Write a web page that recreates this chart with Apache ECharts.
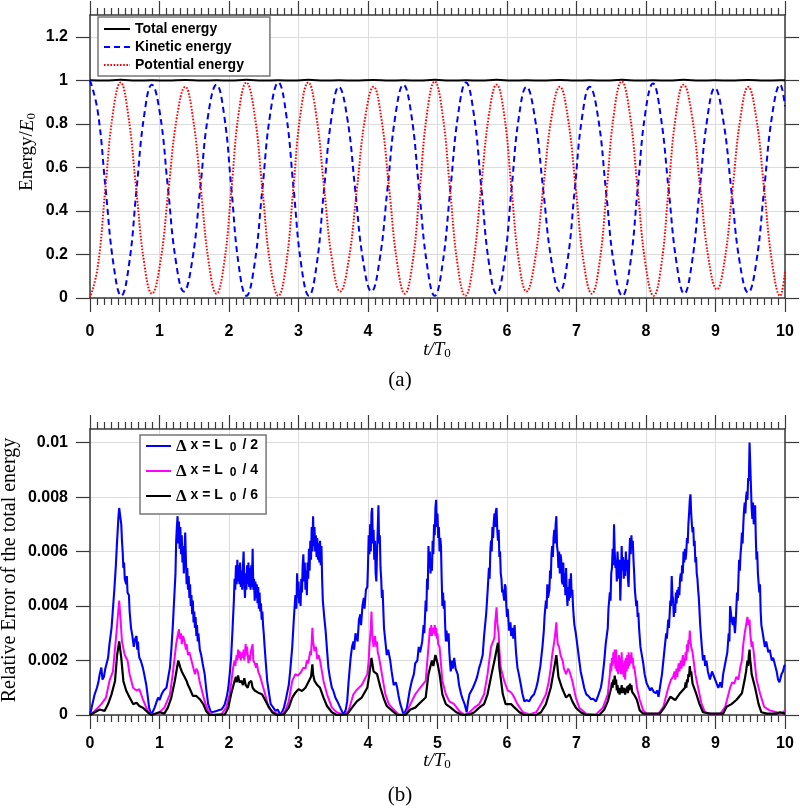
<!DOCTYPE html>
<html><head><meta charset="utf-8">
<script src="https://cdn.jsdelivr.net/npm/echarts@6/dist/echarts.min.js"></script>
<style>html,body{margin:0;padding:0;background:#fff}#c{width:800px;height:809px}</style>
</head><body><div id="c"></div>
<script>
// ---------- data ----------
const timeTicks = [0,1,2,3,4,5,6,7,8,9,10];
const energyTicks = [0,0.2,0.4,0.6,0.8,1,1.2];
const errTicks = [0,0.002,0.004,0.006,0.008,0.01];

const energyNames = ['Total energy','Kinetic energy','Potential energy'];
const errNames = ['Δx = L0/2','Δx = L0/4','Δx = L0/6'];
const errDenoms = ['2','4','6'];

const totalEnergy = [[0,1.0],[0.22,0.999],[0.44,1.002],[0.67,0.999],[0.89,1.0],[1.12,0.999],[1.37,1.001],[1.6,0.999],[1.82,1.0],[2.03,0.999],[2.25,1.002],[2.48,0.999],[2.71,1.0],[2.93,0.999],[3.14,1.002],[3.37,0.999],[3.58,1.0],[3.82,0.999],[4.08,1.001],[4.3,0.999],[4.51,1.0],[4.74,0.999],[4.96,1.002],[5.18,0.999],[5.41,1.0],[5.63,0.999],[5.85,1.002],[6.07,0.999],[6.28,1.0],[6.52,0.999],[6.76,1.001],[6.98,0.999],[7.19,1.0],[7.43,0.999],[7.65,1.002],[7.88,0.999],[8.1,1.0],[8.33,0.999],[8.54,1.002],[8.77,0.999],[8.99,1.0],[9.23,0.999],[9.47,1.001],[9.7,0.999],[9.93,1.0],[10,1.0]];

const kineticEnergy = [[0,1.0],[0.11,0.86],[0.225,0.5],[0.34,0.15],[0.45,0.01],
[0.56,0.15],[0.67,0.5],[0.78,0.84],[0.89,0.98],
[1.005,0.85],[1.12,0.51],[1.235,0.17],[1.35,0.03],
[1.47,0.17],[1.585,0.5],[1.70,0.84],[1.82,0.98],
[1.93,0.84],[2.035,0.5],[2.14,0.15],[2.25,0.01],
[2.365,0.15],[2.48,0.5],[2.595,0.85],[2.71,0.99],
[2.82,0.85],[2.93,0.5],[3.04,0.15],[3.15,0.01],
[3.26,0.15],[3.365,0.49],[3.475,0.83],[3.58,0.97],
[3.70,0.83],[3.815,0.5],[3.93,0.17],[4.05,0.03],
[4.165,0.17],[4.28,0.5],[4.395,0.84],[4.51,0.98],
[4.62,0.85],[4.735,0.5],[4.85,0.15],[4.96,0.01],
[5.07,0.15],[5.185,0.5],[5.30,0.85],[5.41,0.99],
[5.52,0.85],[5.63,0.51],[5.74,0.16],[5.85,0.02],
[5.96,0.16],[6.065,0.5],[6.17,0.83],[6.28,0.97],
[6.40,0.83],[6.52,0.5],[6.64,0.17],[6.76,0.03],
[6.87,0.17],[6.975,0.5],[7.08,0.83],[7.19,0.97],
[7.31,0.83],[7.425,0.49],[7.54,0.15],[7.66,0.01],
[7.77,0.15],[7.88,0.5],[7.99,0.85],[8.10,0.985],
[8.21,0.84],[8.325,0.5],[8.44,0.16],[8.55,0.02],
[8.66,0.16],[8.77,0.49],[8.88,0.82],[8.99,0.965],
[9.11,0.82],[9.23,0.49],[9.35,0.16],[9.47,0.025],
[9.585,0.16],[9.70,0.5],[9.815,0.84],[9.93,0.98],
[10,0.88]];

const potentialEnergy = [[0,0.0],[0.11,0.14],[0.22,0.5],[0.33,0.85],[0.44,0.99],
[0.55,0.84],[0.665,0.5],[0.78,0.16],[0.89,0.02],
[1.01,0.16],[1.13,0.5],[1.25,0.83],[1.37,0.97],
[1.48,0.83],[1.595,0.5],[1.71,0.16],[1.82,0.02],
[1.93,0.16],[2.035,0.5],[2.14,0.85],[2.25,0.99],
[2.365,0.85],[2.48,0.5],[2.595,0.15],[2.71,0.01],
[2.82,0.15],[2.925,0.5],[3.03,0.85],[3.14,0.99],
[3.255,0.84],[3.37,0.5],[3.485,0.17],[3.60,0.03],
[3.72,0.17],[3.84,0.5],[3.96,0.83],[4.08,0.97],
[4.19,0.83],[4.305,0.5],[4.42,0.16],[4.53,0.02],
[4.64,0.16],[4.745,0.5],[4.85,0.85],[4.96,0.995],
[5.07,0.85],[5.18,0.5],[5.29,0.15],[5.40,0.01],
[5.51,0.15],[5.625,0.5],[5.74,0.84],[5.85,0.98],
[5.96,0.84],[6.065,0.5],[6.17,0.17],[6.28,0.03],
[6.40,0.17],[6.52,0.5],[6.64,0.83],[6.76,0.97],
[6.875,0.83],[6.99,0.5],[7.105,0.16],[7.22,0.02],
[7.33,0.16],[7.435,0.5],[7.54,0.85],[7.65,0.995],
[7.765,0.85],[7.88,0.5],[7.995,0.15],[8.11,0.01],
[8.22,0.15],[8.325,0.5],[8.43,0.84],[8.54,0.98],
[8.66,0.84],[8.78,0.51],[8.90,0.18],[9.02,0.04],
[9.13,0.17],[9.245,0.5],[9.36,0.83],[9.47,0.97],
[9.585,0.83],[9.70,0.5],[9.815,0.16],[9.93,0.01],
[10,0.12]];

// relative error values in units of 1e-3
const ERR_UNIT = 1e-3;
const errDx2 = [[0,0],[0.03,0.35],[0.067,0.76],[0.1,1.0],[0.12,1.2],[0.14,1.5],[0.163,1.74],[0.18,1.3],[0.2,1.4],[0.22,1.7],[0.24,1.9],[0.26,2.1],[0.28,2.6],[0.3,3.0],[0.31,3.2],[0.33,3.9],[0.35,4.6],[0.37,5.4],[0.39,6.4],[0.41,7.3],[0.42,7.6],[0.44,7.6],[0.45,7.0],[0.46,6.4],[0.47,6.0],[0.48,5.4],[0.49,5.6],[0.5,5.0],[0.52,4.8],[0.53,5.1],[0.54,4.5],[0.56,4.4],[0.57,3.8],[0.59,3.2],[0.61,2.9],[0.63,2.5],[0.65,2.8],[0.67,2.9],[0.68,2.4],[0.69,2.7],[0.7,2.3],[0.71,2.1],[0.73,2.0],[0.76,1.74],[0.78,1.5],[0.81,1.1],[0.83,0.7],[0.85,0.27],[0.88,0.02],
[0.9,0.1],[0.93,0.27],[0.96,0.5],[0.98,0.64],[1.0,0.55],[1.03,0.76],[1.06,0.9],[1.1,1.0],[1.12,1.3],[1.15,1.74],[1.17,2.4],[1.19,3.2],[1.21,4.2],[1.23,5.2],[1.24,6.4],[1.25,6.9],[1.26,7.3],[1.27,6.3],[1.28,7.1],[1.29,6.1],[1.3,6.9],[1.31,5.9],[1.32,6.6],[1.33,5.6],[1.34,6.2],[1.35,5.2],[1.36,6.0],[1.37,6.7],[1.38,5.7],[1.39,4.8],[1.40,5.4],[1.41,4.6],[1.42,5.1],[1.43,4.3],[1.44,4.8],[1.45,4.0],[1.46,4.4],[1.47,3.7],[1.48,4.2],[1.49,3.4],[1.5,3.8],[1.51,3.2],[1.52,3.6],[1.53,2.9],[1.54,3.3],[1.55,2.7],[1.56,3.0],[1.58,2.4],[1.6,2.2],[1.62,1.9],[1.65,1.5],[1.67,1.0],[1.7,0.4],[1.74,0.1],
[1.78,0.12],[1.82,0.15],[1.86,0.18],[1.89,0.2],[1.92,0.3],[1.94,0.4],[1.97,0.7],[1.99,1.0],[2.01,1.5],[2.03,2.1],[2.05,3.1],[2.07,4.2],[2.08,5.0],[2.09,4.6],[2.1,5.5],[2.11,4.8],[2.12,5.7],[2.13,4.9],[2.14,5.5],[2.15,4.8],[2.16,5.6],[2.17,4.7],[2.18,5.3],[2.19,4.6],[2.2,5.4],[2.21,6.0],[2.22,4.9],[2.23,4.3],[2.24,5.2],[2.25,4.6],[2.26,5.5],[2.27,4.8],[2.28,5.6],[2.29,4.7],[2.3,5.4],[2.31,4.6],[2.32,5.5],[2.33,4.7],[2.34,6.1],[2.35,4.6],[2.36,5.0],[2.37,4.2],[2.38,4.9],[2.39,4.3],[2.4,4.8],[2.41,4.1],[2.42,4.7],[2.43,3.9],[2.44,4.5],[2.45,3.8],[2.46,4.1],[2.47,3.5],[2.48,3.8],[2.49,3.3],[2.5,3.0],[2.51,2.6],[2.53,1.9],[2.55,1.25],[2.57,0.9],[2.6,0.4],[2.63,0.3],[2.67,0.15],[2.7,0.2],[2.74,0],
[2.77,0.15],[2.79,0.27],[2.82,0.6],[2.86,1.1],[2.88,1.6],[2.91,2.5],[2.93,3.4],[2.955,4.4],[2.97,3.9],[2.98,5.2],[2.99,4.3],[3.0,4.9],[3.01,4.1],[3.02,4.6],[3.03,4.0],[3.04,5.0],[3.05,4.5],[3.06,5.5],[3.07,5.9],[3.08,4.9],[3.09,5.6],[3.1,4.6],[3.11,5.3],[3.12,4.4],[3.13,5.6],[3.14,5.0],[3.15,6.1],[3.16,5.3],[3.17,6.4],[3.18,5.7],[3.19,6.9],[3.2,6.0],[3.21,7.3],[3.22,6.2],[3.23,6.9],[3.24,6.0],[3.25,6.6],[3.26,5.8],[3.27,6.5],[3.28,5.7],[3.29,6.3],[3.3,5.6],[3.31,6.4],[3.32,5.5],[3.33,6.2],[3.34,5.0],[3.35,4.2],[3.37,3.6],[3.39,3.1],[3.41,2.4],[3.43,1.74],[3.45,1.4],[3.48,1.0],[3.5,0.9],[3.53,0.64],[3.56,0.5],[3.6,0.27],[3.62,0.2],[3.65,0],
[3.68,0.2],[3.7,0.5],[3.72,1.2],[3.75,2.1],[3.77,2.5],[3.79,2.7],[3.8,2.4],[3.82,3.0],[3.84,3.0],[3.85,2.7],[3.87,3.5],[3.89,3.7],[3.9,3.3],[3.92,4.0],[3.94,4.3],[3.95,3.9],[3.97,4.6],[3.99,4.7],[4.0,5.5],[4.01,6.6],[4.02,5.9],[4.03,7.0],[4.04,6.0],[4.05,7.4],[4.06,7.6],[4.07,6.3],[4.08,6.8],[4.09,5.7],[4.1,6.4],[4.11,5.2],[4.12,4.9],[4.13,6.0],[4.14,6.8],[4.15,7.7],[4.16,6.3],[4.17,6.6],[4.18,5.4],[4.19,5.0],[4.2,4.3],[4.21,4.6],[4.23,3.2],[4.25,2.7],[4.27,2.2],[4.29,2.4],[4.32,2.0],[4.34,1.6],[4.37,1.1],[4.4,1.2],[4.42,1.0],[4.44,0.7],[4.465,0.4],[4.49,0.2],[4.51,0.02],
[4.54,0.15],[4.56,0.27],[4.6,0.9],[4.63,1.25],[4.66,1.5],[4.68,1.9],[4.71,2.0],[4.73,2.5],[4.75,2.3],[4.78,2.7],[4.8,3.3],[4.81,3.0],[4.83,4.2],[4.84,3.8],[4.85,5.0],[4.86,4.6],[4.87,6.2],[4.88,5.4],[4.89,6.0],[4.9,5.2],[4.91,5.7],[4.92,5.3],[4.93,6.4],[4.94,5.9],[4.95,7.0],[4.96,6.6],[4.97,7.6],[4.98,7.9],[4.99,6.9],[5.0,7.4],[5.01,6.5],[5.02,6.9],[5.03,6.0],[5.04,6.5],[5.05,6.2],[5.06,5.0],[5.07,4.0],[5.08,4.5],[5.09,3.9],[5.1,4.2],[5.11,3.3],[5.12,2.7],[5.13,3.1],[5.14,2.7],[5.16,3.0],[5.17,2.3],[5.19,1.6],[5.21,2.0],[5.22,1.7],[5.24,2.1],[5.26,1.7],[5.29,1.5],[5.31,1.1],[5.34,0.76],[5.36,0.6],[5.39,0.4],[5.42,0.1],
[5.44,0.5],[5.46,0.76],[5.48,0.7],[5.51,1.0],[5.53,0.95],[5.55,1.25],[5.57,1.4],[5.6,1.74],[5.62,1.9],[5.65,2.2],[5.67,2.9],[5.7,3.7],[5.72,4.5],[5.74,5.4],[5.75,5.0],[5.76,6.0],[5.77,6.4],[5.78,6.0],[5.79,6.9],[5.8,6.5],[5.81,7.1],[5.82,7.4],[5.83,6.9],[5.84,7.5],[5.85,7.6],[5.86,6.8],[5.87,6.4],[5.88,6.8],[5.89,5.8],[5.9,6.0],[5.91,5.2],[5.92,5.0],[5.93,4.5],[5.94,4.6],[5.96,4.2],[5.97,4.8],[5.98,4.7],[5.99,4.0],[6.0,3.6],[6.01,3.9],[6.03,3.1],[6.05,3.4],[6.06,2.9],[6.08,3.2],[6.09,2.8],[6.11,3.3],[6.12,2.7],[6.13,2.3],[6.15,1.74],[6.17,1.5],[6.2,1.1],[6.22,0.8],[6.25,0.5],[6.28,0.55],[6.32,0.5],[6.35,0.65],[6.39,0.76],
[6.42,1.0],[6.44,1.2],[6.46,1.5],[6.48,1.8],[6.51,2.5],[6.53,3.1],[6.54,3.6],[6.56,4.2],[6.57,3.9],[6.58,4.8],[6.59,4.3],[6.61,4.6],[6.62,5.3],[6.63,5.0],[6.64,5.9],[6.65,6.2],[6.66,5.8],[6.67,6.5],[6.68,6.8],[6.69,6.3],[6.7,7.0],[6.71,7.3],[6.72,6.2],[6.73,6.0],[6.74,5.4],[6.75,6.0],[6.76,5.2],[6.77,5.9],[6.78,5.7],[6.79,4.9],[6.8,4.8],[6.81,5.6],[6.82,4.7],[6.83,5.2],[6.84,4.4],[6.85,5.4],[6.86,4.5],[6.87,4.0],[6.88,4.7],[6.89,4.2],[6.9,5.0],[6.91,4.3],[6.92,5.2],[6.93,4.4],[6.94,4.6],[6.95,4.0],[6.96,3.6],[6.97,3.3],[6.99,3.0],[7.01,2.6],[7.04,2.0],[7.06,1.6],[7.09,1.25],[7.11,1.0],[7.14,0.76],[7.17,0.7],[7.21,0.58],[7.24,0.6],[7.28,0.5],
[7.31,0.7],[7.35,1.0],[7.37,1.3],[7.4,2.0],[7.42,2.6],[7.45,3.2],[7.46,3.9],[7.48,4.5],[7.49,4.2],[7.5,5.2],[7.51,5.4],[7.52,6.1],[7.53,5.5],[7.54,7.0],[7.55,6.0],[7.56,5.4],[7.57,5.7],[7.58,4.9],[7.59,6.0],[7.6,5.5],[7.61,5.0],[7.62,5.7],[7.63,4.2],[7.64,5.1],[7.65,6.2],[7.66,5.3],[7.67,5.8],[7.68,5.0],[7.69,5.7],[7.7,5.1],[7.71,6.0],[7.72,5.3],[7.73,5.7],[7.74,5.0],[7.75,4.7],[7.76,5.8],[7.77,6.5],[7.78,5.9],[7.79,6.6],[7.8,6.1],[7.81,6.4],[7.82,5.7],[7.83,5.2],[7.84,4.6],[7.85,4.3],[7.86,4.0],[7.87,4.2],[7.88,3.6],[7.89,3.75],[7.9,3.2],[7.92,2.5],[7.94,2.2],[7.96,1.9],[7.98,1.5],[8.01,1.16],[8.04,1.0],[8.06,0.9],[8.08,1.0],[8.11,0.85],[8.14,0.8],[8.16,0.9],[8.18,0.67],
[8.2,1.0],[8.23,1.5],[8.25,2.0],[8.27,2.5],[8.29,3.0],[8.3,2.8],[8.32,3.5],[8.33,3.2],[8.35,4.2],[8.36,4.0],[8.37,5.1],[8.38,4.4],[8.39,4.25],[8.4,3.6],[8.41,4.0],[8.42,3.75],[8.43,4.5],[8.44,4.1],[8.45,4.6],[8.46,4.3],[8.47,4.7],[8.48,4.4],[8.49,5.0],[8.5,5.2],[8.51,4.9],[8.52,5.5],[8.53,5.2],[8.54,6.0],[8.55,5.6],[8.56,6.1],[8.57,5.7],[8.58,6.0],[8.59,6.5],[8.6,6.3],[8.61,7.0],[8.62,7.4],[8.63,7.9],[8.64,8.1],[8.65,7.4],[8.66,7.0],[8.67,6.7],[8.68,6.9],[8.69,6.2],[8.7,6.4],[8.71,5.6],[8.72,5.8],[8.73,5.2],[8.74,5.0],[8.75,4.6],[8.76,4.3],[8.78,3.3],[8.8,2.6],[8.82,2.0],[8.84,2.2],[8.85,1.8],[8.87,2.0],[8.89,1.6],[8.92,1.3],[8.95,1.6],[8.98,1.4],[9.01,1.2],[9.04,1.0],
[9.07,1.2],[9.09,1.0],[9.11,1.5],[9.14,1.9],[9.17,2.3],[9.19,3.0],[9.2,2.7],[9.21,4.0],[9.22,3.8],[9.23,3.5],[9.25,3.3],[9.26,3.6],[9.28,3.0],[9.29,3.4],[9.31,4.5],[9.32,4.2],[9.33,5.0],[9.34,5.7],[9.35,5.3],[9.36,5.9],[9.37,6.2],[9.38,6.7],[9.39,6.3],[9.4,7.0],[9.41,7.5],[9.42,7.8],[9.43,7.4],[9.44,8.0],[9.45,8.2],[9.46,7.9],[9.47,8.7],[9.48,8.6],[9.49,10.0],[9.5,9.2],[9.51,8.4],[9.52,7.6],[9.53,7.2],[9.54,7.8],[9.55,7.0],[9.56,7.4],[9.57,7.7],[9.58,6.5],[9.59,5.7],[9.6,6.0],[9.61,5.2],[9.63,4.5],[9.64,4.8],[9.65,3.8],[9.66,3.3],[9.68,3.0],[9.71,2.5],[9.73,2.7],[9.76,2.3],[9.78,2.4],[9.81,2.0],[9.83,2.1],[9.86,1.8],[9.88,1.6],[9.9,1.3],[9.92,1.2],[9.95,1.5],[9.97,1.6],[9.99,1.8],[10,1.85]];

const errDx4 = [[0,0],[0.067,0.15],[0.163,0.4],[0.23,0.64],[0.28,1.25],[0.33,1.6],[0.38,3.0],[0.42,4.2],[0.44,3.5],[0.46,2.7],[0.5,2.2],[0.54,2.0],[0.57,1.5],[0.62,1.0],[0.67,0.9],[0.71,0.95],[0.76,0.58],[0.81,0.27],[0.86,0.05],[0.93,0.02],[1.0,0.1],[1.07,0.27],[1.15,0.76],[1.19,1.5],[1.24,2.6],[1.26,2.9],[1.28,3.15],[1.29,2.8],[1.31,3.0],[1.32,2.6],[1.34,2.9],[1.36,2.7],[1.38,2.4],[1.39,2.6],[1.41,2.2],[1.43,2.3],[1.46,2.0],[1.48,1.8],[1.51,1.5],[1.53,1.7],[1.55,1.6],[1.58,1.2],[1.6,1.0],[1.65,0.5],[1.7,0.15],[1.77,0],[1.89,0.02],[1.96,0.27],[2.01,0.76],
[2.06,1.74],[2.08,2.0],[2.09,1.8],[2.11,2.2],[2.12,2.0],[2.13,2.4],[2.14,2.1],[2.15,2.35],[2.17,2.0],[2.18,2.3],[2.2,2.1],[2.21,2.4],[2.22,2.0],[2.24,2.6],[2.25,2.2],[2.26,2.5],[2.28,1.9],[2.29,2.2],[2.3,2.0],[2.32,2.4],[2.34,2.6],[2.35,2.0],[2.37,1.9],[2.39,1.74],[2.4,1.9],[2.42,1.6],[2.44,1.6],[2.45,1.4],[2.475,1.45],
[2.52,0.76],[2.57,0.27],[2.64,0.1],[2.74,0],[2.81,0.15],[2.86,0.5],[2.91,1.25],[2.955,1.5],[2.99,1.45],[3.03,1.55],[3.05,1.5],[3.07,1.74],[3.1,1.7],[3.12,2.0],[3.14,1.9],[3.17,2.35],[3.18,2.2],[3.2,3.2],[3.21,2.7],[3.23,2.35],[3.25,2.5],[3.27,2.05],[3.29,2.2],[3.31,2.0],[3.33,1.7],[3.36,1.25],[3.41,0.76],[3.48,0.27],[3.55,0.1],[3.65,0],[3.72,0.15],[3.79,0.76],[3.83,0.9],[3.87,1.0],[3.91,1.1],[3.94,1.25],[3.99,1.5],[4.01,2.0],[4.02,2.5],[4.04,3.2],[4.05,3.8],[4.06,3.0],[4.08,2.5],[4.1,2.9],[4.12,2.5],[4.13,2.7],[4.14,2.3],[4.16,2.1],[4.18,1.8],[4.2,1.5],[4.25,0.76],[4.3,0.4],[4.37,0.2],[4.44,0.02],[4.54,0.02],[4.61,0.4],[4.68,0.76],[4.75,1.0],[4.83,1.25],
[4.87,2.5],[4.88,2.8],[4.89,3.2],[4.9,2.9],[4.91,3.3],[4.92,2.9],[4.93,3.2],[4.945,3.0],[4.96,3.3],[4.97,2.9],[4.98,3.2],[4.99,2.8],[5.0,3.0],[5.01,2.6],[5.03,2.5],
[5.07,1.25],[5.12,0.76],[5.17,0.5],[5.24,0.4],[5.31,0.15],[5.39,0],[5.46,0.1],[5.53,0.27],[5.6,0.4],[5.67,0.76],[5.72,1.5],[5.77,2.5],[5.8,2.7],[5.82,2.85],[5.83,3.4],[5.85,3.95],[5.86,3.4],[5.88,3.0],[5.89,2.4],[5.91,1.74],[5.96,1.25],[6.01,0.9],[6.05,0.85],[6.08,0.76],[6.15,0.4],[6.23,0.1],[6.32,0.02],[6.42,0.1],[6.49,0.4],[6.56,0.76],[6.6,1.2],[6.63,1.74],[6.65,2.2],[6.68,2.7],[6.69,2.9],[6.71,3.4],[6.72,2.9],[6.73,2.6],[6.75,2.5],[6.77,2.2],[6.8,2.0],[6.82,1.7],[6.85,1.5],[6.88,1.7],[6.9,1.6],[6.94,1.25],[6.99,0.64],[7.04,0.27],[7.14,0.05],[7.28,0.02],[7.38,0.27],[7.45,0.76],
[7.48,1.5],[7.49,1.9],[7.5,1.6],[7.51,2.1],[7.52,1.8],[7.53,2.3],[7.54,1.9],[7.55,2.4],[7.56,1.7],[7.57,2.4],[7.58,1.6],[7.59,2.0],[7.6,1.5],[7.61,2.2],[7.62,1.6],[7.63,2.1],[7.64,1.5],[7.65,2.3],[7.66,1.5],[7.67,1.9],[7.68,1.4],[7.69,2.0],[7.7,1.3],[7.71,2.1],[7.72,1.6],[7.73,2.2],[7.74,1.7],[7.75,2.3],[7.76,1.8],[7.77,2.2],[7.78,1.9],[7.79,2.3],[7.8,1.9],[7.81,2.1],[7.82,1.7],[7.83,1.8],[7.85,1.4],[7.87,1.0],
[7.91,0.55],[7.96,0.17],[8.01,0.05],[8.18,0.05],[8.25,0.3],[8.32,1.0],[8.36,1.3],
[8.39,1.4],[8.41,1.6],[8.42,1.3],[8.44,1.7],[8.45,1.4],[8.47,1.9],[8.48,1.6],[8.5,2.0],[8.51,1.7],[8.53,2.2],[8.54,1.8],[8.56,2.0],[8.57,2.3],[8.58,2.0],[8.59,2.6],[8.6,2.3],[8.61,2.75],[8.62,2.6],[8.63,3.1],[8.64,2.7],[8.65,2.5],[8.67,2.3],
[8.71,1.5],[8.75,1.0],[8.8,0.4],[8.85,0.1],[8.92,0.05],[9.07,0.05],[9.14,0.3],[9.21,1.0],[9.24,1.2],[9.27,1.15],[9.3,1.4],[9.33,1.3],[9.36,1.8],[9.38,2.0],[9.4,2.6],[9.42,3.0],[9.44,3.3],[9.46,3.6],[9.47,3.3],[9.49,3.5],[9.5,3.0],[9.52,2.5],[9.53,2.7],[9.55,2.3],[9.57,1.8],[9.59,1.3],[9.64,0.8],[9.7,0.3],[9.78,0.17],[9.88,0.1],[9.95,0.05],[10,0.17]];

const errDx6 = [[0,0],[0.07,0.1],[0.14,0.2],[0.21,0.15],[0.26,0.4],[0.31,0.76],[0.36,1.25],[0.39,2.2],[0.42,2.7],[0.45,2.1],[0.48,1.25],[0.52,0.9],[0.57,0.64],[0.62,0.4],[0.67,0.45],[0.71,0.33],[0.76,0.27],[0.83,0.1],[0.88,0],[1.0,0.1],[1.07,0.05],[1.12,0.27],[1.17,0.64],[1.22,1.25],[1.27,2.0],[1.3,1.74],[1.32,1.6],[1.34,1.5],[1.36,1.4],[1.39,1.25],[1.41,1.1],[1.43,1.0],[1.48,0.7],[1.53,0.7],[1.58,0.58],[1.63,0.4],[1.67,0.15],[1.72,0],[1.94,0.02],[1.99,0.27],[2.03,0.76],[2.08,1.25],[2.1,1.4],[2.11,1.2],[2.13,1.45],[2.15,1.2],[2.18,1.25],[2.2,1.1],[2.22,1.35],[2.24,1.1],[2.27,1.0],[2.29,1.2],[2.32,1.25],[2.34,1.0],[2.37,0.9],[2.42,0.82],[2.475,0.76],[2.55,0.4],[2.62,0.1],[2.69,0],[2.79,0.02],[2.86,0.27],[2.91,0.64],[2.955,0.82],[3.0,0.95],[3.05,0.88],[3.1,1.0],[3.15,1.25],[3.18,1.4],[3.2,1.86],[3.21,1.5],[3.23,1.25],[3.27,1.1],[3.31,1.0],[3.36,0.64],[3.41,0.33],[3.48,0.1],[3.55,0],[3.7,0.02],[3.77,0.27],[3.84,0.5],[3.91,0.64],[3.99,1.0],[4.02,1.5],[4.05,2.1],[4.08,1.6],[4.13,1.5],[4.18,1.0],[4.23,0.58],[4.27,0.33],[4.35,0.15],[4.42,0],[4.54,0],[4.61,0.2],[4.68,0.27],[4.75,0.45],[4.83,0.64],[4.87,1.5],[4.92,2.0],[4.94,1.8],[4.97,2.2],[5.0,1.9],[5.03,1.5],[5.07,0.76],[5.12,0.4],[5.19,0.27],[5.27,0.1],[5.36,0],[5.46,0.02],[5.53,0.1],[5.6,0.27],[5.67,0.4],[5.72,0.76],[5.77,1.4],[5.82,2.0],[5.87,2.65],[5.89,1.74],[5.94,0.76],[5.98,0.4],[6.06,0.4],[6.11,0.27],[6.18,0.1],[6.25,0],[6.42,0],[6.49,0.1],[6.56,0.4],[6.63,1.0],[6.68,1.74],[6.71,2.2],[6.74,1.4],[6.79,1.0],[6.85,0.64],[6.9,0.76],[6.94,0.5],[6.99,0.27],[7.06,0.1],[7.14,0],[7.33,0],[7.4,0.2],[7.45,0.5],
[7.48,0.8],[7.5,1.0],[7.51,1.2],[7.52,1.0],[7.53,1.3],[7.54,1.1],[7.55,1.45],[7.56,1.2],[7.57,1.3],[7.58,0.9],[7.59,1.1],[7.6,0.8],[7.61,1.0],[7.62,0.75],[7.63,1.0],[7.64,0.8],[7.65,1.1],[7.66,0.8],[7.67,1.0],[7.68,0.8],[7.69,1.0],[7.7,0.75],[7.71,0.95],[7.72,0.85],[7.73,1.05],[7.74,0.8],[7.75,1.1],[7.76,0.9],[7.77,1.15],[7.78,0.95],[7.79,1.1],[7.8,0.85],[7.82,0.9],[7.84,0.7],[7.87,0.55],
[7.91,0.17],[7.96,0.05],[8.2,0.05],[8.27,0.3],[8.35,0.67],[8.42,0.55],[8.49,0.8],
[8.56,1.0],[8.57,1.2],[8.58,1.0],[8.59,1.3],[8.6,1.2],[8.61,1.5],[8.62,1.4],[8.63,1.8],[8.64,1.5],[8.65,1.6],[8.67,1.15],
[8.72,0.8],[8.77,0.4],[8.82,0.1],[8.92,0.05],[9.11,0.05],[9.16,0.3],[9.23,0.4],[9.3,0.55],[9.38,0.8],
[9.42,1.3],[9.44,1.6],[9.45,1.8],[9.46,2.0],[9.47,1.8],[9.48,2.2],[9.49,2.4],[9.5,2.0],[9.51,1.8],[9.52,1.5],
[9.57,1.0],[9.62,0.4],[9.66,0.1],[9.74,0.05],[9.88,0.05],[9.93,0.1],[10,0.05]];

// ---------- styling / layout ----------
const AX = '#3a3a3a';
const GRIDC = '#dcdcdc';
const SANS = 'Liberation Sans, Arial, Helvetica, sans-serif';
const SERIF = 'Liberation Serif, Times New Roman, serif';
const LBL = {fontFamily: SANS, fontWeight: 'bold', fontSize: 16, color: '#000'};

function xAxes(gridIndex, labelMargin) {
  const base = {
    type: 'value', gridIndex, min: 0, max: 10, interval: 1,
    axisLine: {show: true, onZero: false, lineStyle: {color: AX, width: 1.5}},
    axisTick: {show: true, inside: false, length: 14, lineStyle: {color: AX, width: 1.2}},
    minorTick: {show: true, splitNumber: 10, length: 7, lineStyle: {color: AX, width: 1.2}},
  };
  return [
    Object.assign({}, base, {position: 'bottom',
      axisLabel: Object.assign({show: true, margin: labelMargin, customValues: timeTicks}, LBL),
      splitLine: {show: true, lineStyle: {color: GRIDC, width: 1}}}),
    Object.assign({}, base, {position: 'top', axisLabel: {show: false}, splitLine: {show: false}})
  ];
}
function yAxes(gridIndex, max, ticks) {
  const base = {
    type: 'value', gridIndex, min: 0, max: max,
    axisLine: {show: true, onZero: false, lineStyle: {color: AX, width: 1.5}},
    axisTick: {show: true, inside: false, length: 14, customValues: ticks, lineStyle: {color: AX, width: 1.2}},
    minorTick: {show: false},
  };
  return [
    Object.assign({}, base, {position: 'left',
      axisLabel: Object.assign({show: true, margin: 22, customValues: ticks}, LBL),
      splitLine: {show: true, lineStyle: {color: GRIDC, width: 1}}}),
    Object.assign({}, base, {position: 'right', axisLabel: {show: false}, splitLine: {show: false}})
  ];
}

const errColors = ['#0000ff', '#ff00ff', '#000000'];
const errWidths = [2.1, 2, 2.2];
const errData = [errDx2, errDx4, errDx6];

const series = [
  {name: energyNames[0], type: 'line', xAxisIndex: 0, yAxisIndex: 0, data: totalEnergy, smooth: 0.4,
   showSymbol: false, symbol: 'none', lineStyle: {color: '#000', width: 2}, itemStyle: {color: '#000'}},
  {name: energyNames[1], type: 'line', xAxisIndex: 0, yAxisIndex: 0, data: kineticEnergy, smooth: 0.45,
   showSymbol: false, symbol: 'none', lineStyle: {color: '#0000ff', width: 2, type: [6, 4]}, itemStyle: {color: '#0000ff'}},
  {name: energyNames[2], type: 'line', xAxisIndex: 0, yAxisIndex: 0, data: potentialEnergy, smooth: 0.45,
   showSymbol: false, symbol: 'none', lineStyle: {color: '#ff0000', width: 2, type: [1.6, 1.6]}, itemStyle: {color: '#ff0000'}},
];
errData.forEach((arr, i) => {
  series.push({name: errNames[i], type: 'line', xAxisIndex: 2, yAxisIndex: 2,
    data: arr.map(p => [p[0], p[1] * ERR_UNIT]),
    showSymbol: false, symbol: 'none', lineStyle: {color: errColors[i], width: errWidths[i]}, itemStyle: {color: errColors[i]}});
});

const serifRich = {
  r: {fontFamily: SERIF, fontSize: 19, color: '#000', lineHeight: 20, verticalAlign: 'top'},
  i: {fontFamily: SERIF, fontStyle: 'italic', fontSize: 19, color: '#000', lineHeight: 20, verticalAlign: 'top'},
  s: {fontFamily: SERIF, fontSize: 13, color: '#000', lineHeight: 13, verticalAlign: 'bottom'}
};

const option = {
  animation: false,
  backgroundColor: '#fff',
  grid: [
    {left: 90, right: 15, top: 15, height: 283},
    {left: 90, right: 15, top: 429, height: 286}
  ],
  xAxis: [...xAxes(0, 26), ...xAxes(1, 21)],
  yAxis: [...yAxes(0, 1.3, energyTicks), ...yAxes(1, 0.0105, errTicks)],
  legend: [
    {data: energyNames, orient: 'vertical', left: 98, top: 17, padding: [5, 26, 4, 5],
     itemWidth: 26, itemHeight: 14, itemGap: 4, backgroundColor: '#fff',
     borderColor: '#777', borderWidth: 1.5, borderRadius: 0,
     itemStyle: {opacity: 0},
     textStyle: {fontFamily: SANS, fontWeight: 'bold', fontSize: 14, color: '#000'}},
    {data: errNames, orient: 'vertical', left: 140, top: 435, padding: [3, 8, 5, 5],
     itemWidth: 25, itemHeight: 18, itemGap: 4, backgroundColor: '#fff',
     borderColor: '#777', borderWidth: 1.5, borderRadius: 0,
     itemStyle: {opacity: 0},
     formatter: function (name) {
       const k = errNames.indexOf(name);
       return '{d|Δ}{m| x = L}{s|0}{m|/ ' + errDenoms[k] + '}';
     },
     textStyle: {fontFamily: SANS, fontWeight: 'bold', fontSize: 14, color: '#000',
       rich: {
         d: {fontFamily: SERIF, fontSize: 17, color: '#000', lineHeight: 16, padding: [0, 0, 4, 0], verticalAlign: 'top'},
         m: {fontFamily: SANS, fontWeight: 'bold', fontSize: 14, color: '#000', lineHeight: 16, padding: [0, 0, 4, 0], verticalAlign: 'top'},
         s: {fontFamily: SANS, fontWeight: 'bold', fontSize: 12, color: '#000', lineHeight: 12, verticalAlign: 'bottom', padding: [0, 6, 0, 7]}
       }}}
  ],
  graphic: [
    {type: 'text', x: 437, y: 350, style: {text: '{i|t/T}{s|0}', rich: serifRich, align: 'center', verticalAlign: 'middle'}},
    {type: 'text', x: 437, y: 761, style: {text: '{i|t/T}{s|0}', rich: serifRich, align: 'center', verticalAlign: 'middle'}},
    {type: 'text', x: 400, y: 380, style: {text: '(a)', font: '21px ' + SERIF, fill: '#000', align: 'center', verticalAlign: 'middle'}},
    {type: 'text', x: 400, y: 795, style: {text: '(b)', font: '21px ' + SERIF, fill: '#000', align: 'center', verticalAlign: 'middle'}},
    {type: 'text', x: 28, y: 152, rotation: Math.PI / 2,
     style: {text: '{r|Energy/}{i|E}{s|0}', rich: serifRich, align: 'center', verticalAlign: 'middle'}},
    {type: 'text', x: 10, y: 570, rotation: Math.PI / 2,
     style: {text: 'Relative Error of the total energy', font: '20px ' + SERIF, fill: '#000', align: 'center', verticalAlign: 'middle'}}
  ],
  series
};

const chart = echarts.init(document.getElementById('c'), null, {renderer: 'canvas'});
chart.setOption(option);
</script>
</body></html>
